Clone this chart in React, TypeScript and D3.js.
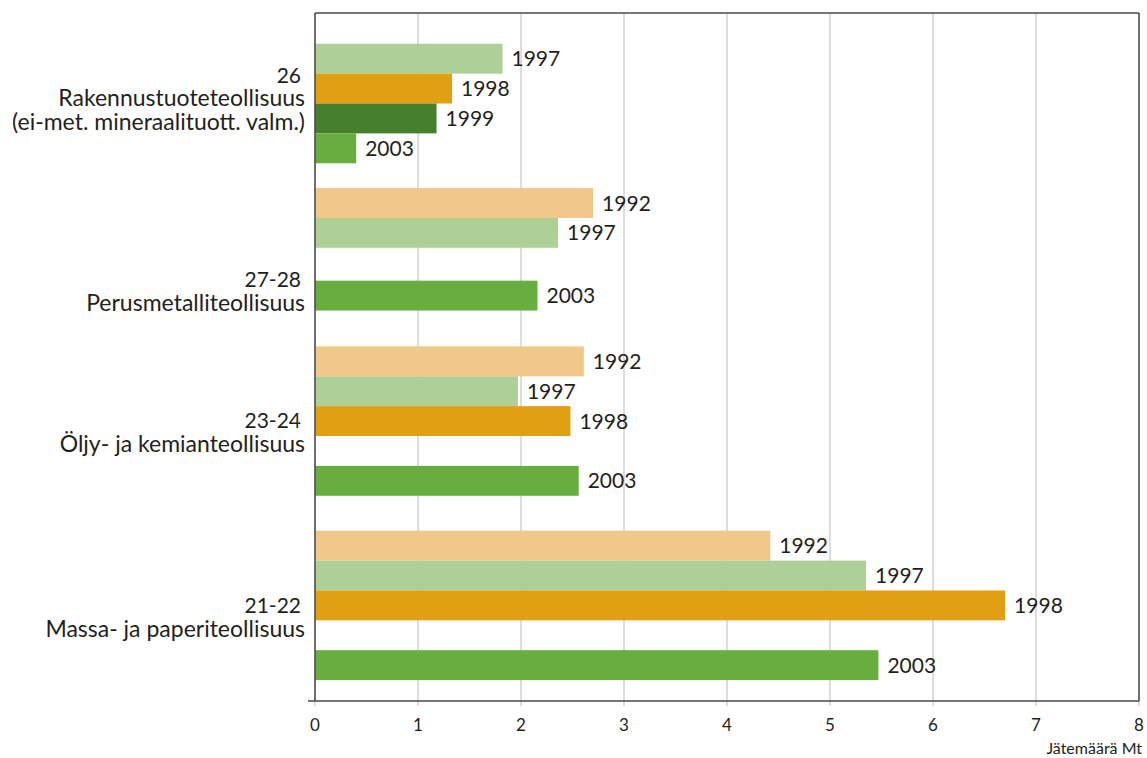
import React from "react";
import * as d3 from "d3";

// Industry groups, top to bottom
const categoryCodes = ["26", "27-28", "23-24", "21-22"];
const categoryNames = [
  ["Rakennustuoteteollisuus", "(ei-met. mineraalituott. valm.)"],
  ["Perusmetalliteollisuus"],
  ["Öljy- ja kemianteollisuus"],
  ["Massa- ja paperiteollisuus"],
];

// Waste amounts (Mt) per year; null = no figure for that year
const years = ["1992", "1997", "1998", "1999", "2003"];
const values1992 = [null, 2.7, 2.61, 4.42];
const values1997 = [1.82, 2.36, 1.97, 5.35];
const values1998 = [1.33, null, 2.48, 6.7];
const values1999 = [1.18, null, null, null];
const values2003 = [0.4, 2.16, 2.56, 5.47];
const seriesValues = [values1992, values1997, values1998, values1999, values2003];

const xTicks = [0, 1, 2, 3, 4, 5, 6, 7, 8];
const xAxisTitle = "Jätemäärä Mt";

const yearColors = ["#F0C88A", "#AED096", "#E19F14", "#47802C", "#67AE3E"];

// Layout
const W = 1147;
const H = 758;
const plotLeft = 315;
const plotRight = 1139;
const plotTop = 13;
const plotBottom = 701;
const gapBefore = [1.03, 0.83, 1.2, 1.17]; // spacing before each group, in bar-row units
const gapAfter = 0.7;
const emptySlot = [1, 1.1, 1, 1]; // height of the empty 1999 slot per group
const labelOffsets = [-21, 38, 7, 8]; // first label baseline relative to group centre
const lineHeight = 23.5;
const FONT = "Lato, 'Open Sans', sans-serif";
const TEXT = "#231F20";

type Row = { year: number; value: number | null; start: number; size: number };

function buildRows(ci: number, gi: number): Row[] {
  const rows: Row[] = [];
  let u = 0;
  const push = (yi: number) => {
    const v = seriesValues[yi][ci];
    const size = v == null ? emptySlot[gi] : 1;
    rows.push({ year: yi, value: v, start: u, size });
    u += size;
  };
  // earlier years only when present
  [0, 1, 2].forEach((yi) => {
    if (seriesValues[yi][ci] != null) push(yi);
  });
  // 1999 keeps its slot even when empty
  push(3);
  push(4);
  return rows;
}

export default function App() {
  const groups = categoryCodes.map((_, ci) => buildRows(ci, ci));
  const groupSize = groups.map((rows) => rows.reduce((s, r) => s + r.size, 0));

  let cursor = 0;
  const groupStarts: number[] = [];
  groups.forEach((_, gi) => {
    cursor += gapBefore[gi];
    groupStarts.push(cursor);
    cursor += groupSize[gi];
  });
  const totalUnits = cursor + gapAfter;

  const x = d3.scaleLinear().domain([0, 8]).range([plotLeft, plotRight]);
  const y = d3.scaleLinear().domain([0, totalUnits]).range([plotTop, plotBottom]);

  return (
    <svg
      width={W}
      height={H}
      style={{ position: "absolute", left: 0, top: 0, background: "#fff" }}
      fontFamily={FONT}
    >
      {/* vertical gridlines */}
      {xTicks.map((t) => (
        <line
          key={"g" + t}
          x1={x(t)}
          x2={x(t)}
          y1={plotTop}
          y2={plotBottom + 5}
          stroke="#C6C6C6"
          strokeWidth={1.2}
        />
      ))}

      {/* bars and year labels */}
      {groups.map((rows, gi) =>
        rows.map((r, ri) => {
          if (r.value == null) return null;
          const y0 = y(groupStarts[gi] + r.start);
          const y1 = y(groupStarts[gi] + r.start + r.size);
          return (
            <g key={`b${gi}-${ri}`}>
              <rect
                x={x(0)}
                y={y0}
                width={x(r.value) - x(0)}
                height={y1 - y0}
                fill={yearColors[r.year]}
              />
              <text
                x={x(r.value) + 9}
                y={(y0 + y1) / 2}
                dy="0.36em"
                fontSize={21}
                fill={TEXT}
              >
                {years[r.year]}
              </text>
            </g>
          );
        })
      )}

      {/* frame */}
      <line x1={plotLeft} x2={plotRight} y1={plotTop} y2={plotTop} stroke="#4A4A4A" strokeWidth={1.5} />
      <line x1={plotRight} x2={plotRight} y1={plotTop} y2={plotBottom} stroke="#4A4A4A" strokeWidth={1.5} />
      <line x1={plotLeft} x2={plotLeft} y1={plotTop} y2={plotBottom} stroke="#4A4A4A" strokeWidth={1.5} />
      <line x1={plotLeft - 7} x2={plotRight} y1={plotBottom} y2={plotBottom} stroke="#4A4A4A" strokeWidth={1.5} />

      {/* category labels */}
      {categoryCodes.map((code, gi) => {
        const center = y(groupStarts[gi] + groupSize[gi] / 2);
        const first = center + labelOffsets[gi];
        const lines = [code, ...categoryNames[gi]];
        return (
          <g key={"c" + gi}>
            {lines.map((ln, li) => (
              <text
                key={li}
                x={li === 0 ? plotLeft - 14 : plotLeft - 10}
                y={first + li * lineHeight}
                textAnchor="end"
                fontSize={li === 0 ? 21 : 23}
                fill={TEXT}
              >
                {ln}
              </text>
            ))}
          </g>
        );
      })}

      {/* x tick labels */}
      {xTicks.map((t) => (
        <text
          key={"t" + t}
          x={x(t)}
          y={plotBottom + 30}
          textAnchor="middle"
          fontSize={17}
          fill={TEXT}
        >
          {t}
        </text>
      ))}
      <text x={plotRight + 3} y={plotBottom + 53} textAnchor="end" fontSize={16} fill={TEXT}>
        {xAxisTitle}
      </text>
    </svg>
  );
}
